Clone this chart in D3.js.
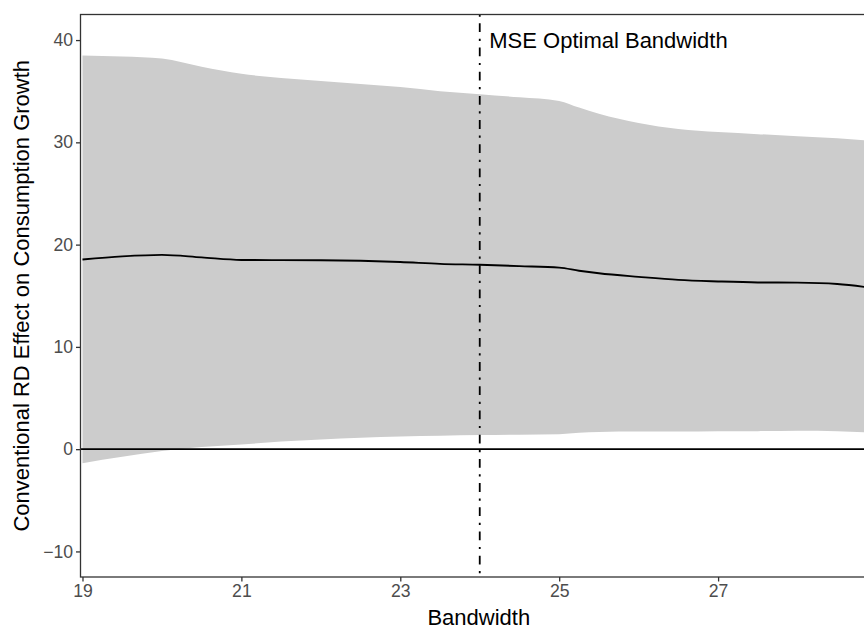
<!DOCTYPE html>
<html>
<head>
<meta charset="utf-8">
<script src="https://cdn.jsdelivr.net/npm/d3@7"></script>
<style>
  body { margin: 0; background: #fff; }
  svg { display: block; font-family: "Liberation Sans", Arial, sans-serif; }
</style>
</head>
<body>
<svg id="chart" width="864" height="628"></svg>
<script>
// Bandwidth grid and the estimates
const bandwidth = [19, 19.5, 20, 20.5, 21, 21.5, 22, 22.5, 23, 23.5, 24, 24.5, 25, 25.25, 25.5, 26, 26.5, 27, 27.5, 28, 28.5, 29];
const estimate  = [18.55, 18.85, 19.0, 18.75, 18.5, 18.48, 18.47, 18.42, 18.3, 18.12, 18.03, 17.9, 17.75, 17.45, 17.2, 16.85, 16.55, 16.4, 16.3, 16.28, 16.15, 15.7];
const ciUpper   = [38.5, 38.4, 38.2, 37.4, 36.7, 36.3, 36.0, 35.7, 35.4, 35.0, 34.7, 34.4, 34.05, 33.4, 32.8, 31.9, 31.3, 31.0, 30.8, 30.6, 30.4, 30.1];
const ciLower   = [-1.37, -0.75, -0.18, 0.2, 0.45, 0.75, 0.95, 1.12, 1.25, 1.32, 1.38, 1.42, 1.47, 1.6, 1.68, 1.72, 1.72, 1.74, 1.76, 1.8, 1.76, 1.6];

const xTicks = [19, 21, 23, 25, 27];
const yTicks = [-10, 0, 10, 20, 30, 40];
const optimalBandwidth = 24;
const annotation = { x: 24.12, y: 40, text: "MSE Optimal Bandwidth" };

const rows = bandwidth.map((b, i) => ({ b, est: estimate[i], lo: ciLower[i], hi: ciUpper[i] }));

const svg = d3.select("#chart");
const panelLeft = 80.5, panelRight = 877, panelTop = 14.5, panelBottom = 577;

const x = d3.scaleLinear().domain([18.975, 29.0]).range([panelLeft, panelRight]);
const y = d3.scaleLinear().domain([-12.5, 42.5]).range([panelBottom, panelTop]);

svg.append("defs").append("clipPath").attr("id", "panel")
  .append("rect").attr("x", panelLeft).attr("y", panelTop)
  .attr("width", panelRight - panelLeft).attr("height", panelBottom - panelTop);

const panel = svg.append("g").attr("clip-path", "url(#panel)");

// confidence band
panel.append("path")
  .datum(rows)
  .attr("fill", "#cccccc")
  .attr("d", d3.area().curve(d3.curveMonotoneX)
    .x(d => x(d.b)).y0(d => y(d.lo)).y1(d => y(d.hi)));

// point estimate
panel.append("path")
  .datum(rows)
  .attr("fill", "none")
  .attr("stroke", "#000")
  .attr("stroke-width", 1.9)
  .attr("d", d3.line().curve(d3.curveMonotoneX).x(d => x(d.b)).y(d => y(d.est)));

// zero line
panel.append("line")
  .attr("x1", panelLeft).attr("x2", panelRight)
  .attr("y1", y(0)).attr("y2", y(0))
  .attr("stroke", "#000").attr("stroke-width", 1.9);

// optimal bandwidth marker
panel.append("line")
  .attr("x1", x(optimalBandwidth)).attr("x2", x(optimalBandwidth))
  .attr("y1", panelTop).attr("y2", panelBottom)
  .attr("stroke", "#000").attr("stroke-width", 1.8)
  .attr("stroke-dasharray", "2.2,6.6,8.8,6.6");

panel.append("text")
  .attr("x", x(annotation.x)).attr("y", y(annotation.y))
  .attr("dy", "0.35em")
  .attr("font-size", 22)
  .attr("fill", "#000")
  .text(annotation.text);

// panel border
svg.append("rect")
  .attr("x", panelLeft).attr("y", panelTop)
  .attr("width", panelRight - panelLeft).attr("height", panelBottom - panelTop)
  .attr("fill", "none").attr("stroke", "#333").attr("stroke-width", 1.3);

// axes
const xAxis = svg.append("g")
  .attr("transform", `translate(0,${panelBottom})`)
  .call(d3.axisBottom(x).tickValues(xTicks).tickSize(4.5).tickPadding(3).tickFormat(d3.format("d")));
const yAxis = svg.append("g")
  .attr("transform", `translate(${panelLeft},0)`)
  .call(d3.axisLeft(y).tickValues(yTicks).tickSize(4.5).tickPadding(3)
    .tickFormat(d => d < 0 ? "\u2212" + Math.abs(d) : d));

[xAxis, yAxis].forEach(g => {
  g.select(".domain").remove();
  g.selectAll(".tick line").attr("stroke", "#333").attr("stroke-width", 1.3);
  g.selectAll(".tick text").attr("fill", "#4d4d4d").attr("font-size", 17.6)
    .attr("font-family", "Liberation Sans, Arial, sans-serif");
});

// axis titles
svg.append("text")
  .attr("x", (panelLeft + panelRight) / 2).attr("y", 624.5)
  .attr("text-anchor", "middle").attr("font-size", 22)
  .text("Bandwidth");

svg.append("text")
  .attr("transform", `translate(29,${(panelTop + panelBottom) / 2}) rotate(-90)`)
  .attr("text-anchor", "middle").attr("font-size", 22)
  .text("Conventional RD Effect on Consumption Growth");
</script>
</body>
</html>
